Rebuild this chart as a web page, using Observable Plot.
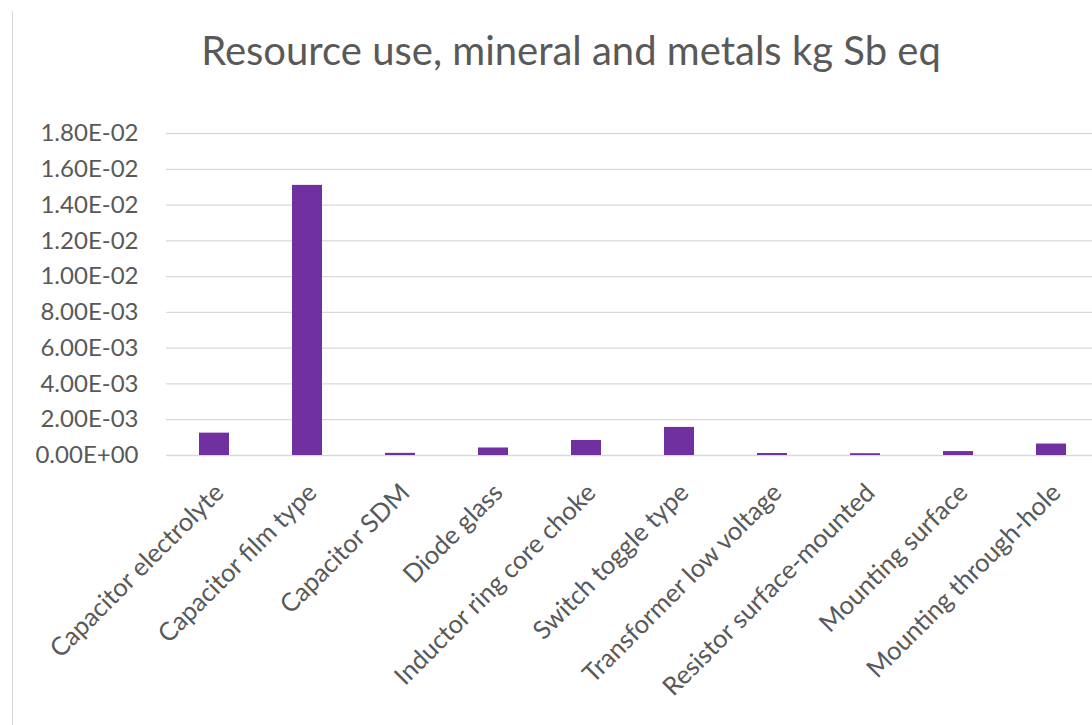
<!DOCTYPE html>
<html>
<head>
<meta charset="utf-8">
<script src="https://cdn.jsdelivr.net/npm/d3@7"></script>
<script src="https://cdn.jsdelivr.net/npm/@observablehq/plot@0.6"></script>
<style>
  html, body { margin: 0; padding: 0; background: #fff; }
  #wrap { position: relative; width: 1092px; height: 725px; overflow: hidden; font-family: Lato, "Open Sans", sans-serif; }
  #frame { position: absolute; left: 12px; top: 11px; width: 1px; height: 714px; background: #d9d9d9; }
  #title { position: absolute; left: 0; top: 0; width: 1142px; height: 100px; line-height: 100px; text-align: center; font-size: 40px; color: #595959; white-space: nowrap; }
  #chart { position: absolute; left: 0; top: 100px; }
</style>
</head>
<body>
<div id="wrap">
  <div id="frame"></div>
  <div id="title">Resource use, mineral and metals kg Sb eq</div>
  <div id="chart"></div>
</div>
<script>
// Components and their resource use (kg Sb eq)
const components = [
  "Capacitor electrolyte",
  "Capacitor film type",
  "Capacitor SDM",
  "Diode glass",
  "Inductor ring core choke",
  "Switch toggle type",
  "Transformer low voltage",
  "Resistor surface-mounted",
  "Mounting surface",
  "Mounting through-hole"
];
const resourceUse = [0.00125, 0.0151, 0.00012, 0.00042, 0.00084, 0.00157, 0.00011, 0.0001, 0.00022, 0.00064];
const yTicks = [0, 0.002, 0.004, 0.006, 0.008, 0.010, 0.012, 0.014, 0.016, 0.018];

const data = components.map((name, i) => ({name, value: resourceUse[i]}));

// Excel-style scientific notation, e.g. 1.80E-02
const sci = d => {
  const [m, e] = d.toExponential(2).split("e");
  return m + "E" + e[0] + e.slice(1).padStart(2, "0");
};

const chart = Plot.plot({
  width: 1092,
  height: 625,
  marginTop: 33,
  marginBottom: 270,
  marginLeft: 166,
  marginRight: -6,
  style: {fontFamily: "Lato, 'Open Sans', sans-serif", fontSize: "24px", color: "#595959", overflow: "visible"},
  x: {domain: components, paddingInner: 0.68, paddingOuter: 0.34, label: null},
  y: {domain: [0, 0.018], label: null},
  marks: [
    Plot.gridY(yTicks, {stroke: "#d9d9d9", strokeOpacity: 1, strokeWidth: 1.3}),
    Plot.axisY(yTicks, {tickSize: 0, tickPadding: 28, tickFormat: sci, fill: "#595959", fontSize: 24}),
    Plot.barY(data, {x: "name", y: "value", fill: "#7030a0"}),
    Plot.axisX({tickSize: 0, tickPadding: 33, dx: 5, tickRotate: -45, fill: "#595959", fontSize: 25.5})
  ]
});
document.getElementById("chart").appendChild(chart);
</script>
</body>
</html>
